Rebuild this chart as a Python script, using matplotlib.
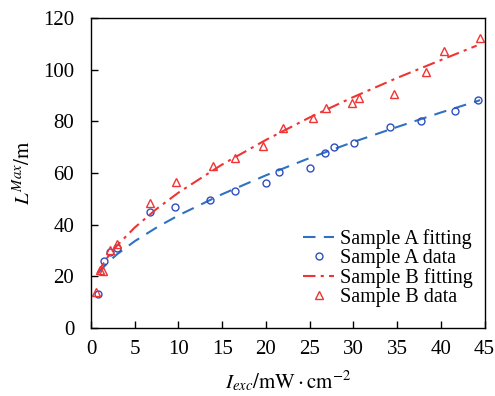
import matplotlib
matplotlib.use("Agg")
import matplotlib.pyplot as plt

# measured points
a_x = [0.8, 1.5, 2.2, 3.0, 6.8, 9.6, 13.6, 16.5, 20.0, 21.5, 25.0, 26.8, 27.8, 30.1, 34.2, 37.7, 41.6, 44.3]
a_y = [13.2, 25.8, 29.4, 31.1, 44.8, 46.7, 49.6, 52.9, 56.3, 60.5, 61.9, 67.9, 70.1, 71.7, 77.7, 80.3, 84.1, 88.3]

b_x = [0.6, 1.0, 1.4, 2.2, 3.0, 6.8, 9.7, 13.9, 16.5, 19.7, 21.9, 25.4, 26.9, 29.8, 30.6, 34.6, 38.3, 40.4, 44.5]
b_y = [14.0, 22.5, 22.0, 30.1, 32.5, 48.3, 56.5, 62.8, 65.9, 70.6, 77.5, 81.4, 85.3, 87.0, 88.9, 90.7, 99.2, 107.4, 112.2]

# fitted curves
fit_a_x = [0.8, 1.0, 2.0, 3.0, 5.0, 7.5, 10.0, 15.0, 20.0, 25.0, 30.0, 35.0, 40.0, 44.5]
fit_a_y = [21.2, 22.0, 25.6, 28.6, 33.6, 38.9, 43.6, 51.8, 59.1, 65.8, 72.0, 77.8, 83.4, 88.2]

fit_b_x = [0.75, 1.0, 2.0, 3.0, 5.0, 7.5, 10.0, 15.0, 20.0, 25.0, 30.0, 35.0, 40.0, 44.1]
fit_b_y = [21.2, 22.8, 27.9, 32.0, 38.9, 46.1, 52.4, 63.3, 72.8, 81.5, 89.4, 96.8, 103.7, 109.3]

plt.rcParams['font.family'] = 'Liberation Serif'
plt.rcParams['mathtext.fontset'] = 'stix'

fig = plt.figure(figsize=(4.95, 3.96), dpi=100)
ax = fig.add_axes([91 / 495, 1 - 328 / 396, (484.5 - 91) / 495, (328 - 18) / 396])

ax.plot(fit_a_x, fit_a_y, color='#2F72C0', lw=1.5, dashes=(6, 4), label='Sample A fitting')
ax.plot(a_x, a_y, 'o', ms=5, mfc='none', mec='#2F4FC0', mew=1.0, label='Sample A data')
ax.plot(fit_b_x, fit_b_y, color='#F03434', lw=1.5, dashes=(6, 2.5, 1.5, 2.5), label='Sample B fitting')
ax.plot(b_x, b_y, '^', ms=6, mfc='none', mec='#F03434', mew=1.0, label='Sample B data')

ax.set_xlim(0, 45)
ax.set_ylim(0, 120)
ax.set_xticks(range(0, 46, 5))
ax.set_yticks(range(0, 121, 20))
ax.tick_params(direction='in', length=5, width=1, labelsize=15)
ax.tick_params(axis='x', pad=9)
ax.tick_params(axis='y', pad=12)
for s in ax.spines.values():
    s.set_linewidth(1.0)

ax.set_xlabel(r'$I_{exc}/\mathrm{mW\cdot cm^{-2}}$', fontsize=15, labelpad=6)
ax.set_ylabel(r'$L^{Max}/\mathrm{m}$', fontsize=15, labelpad=6)

ax.legend(loc='center right', bbox_to_anchor=(1.0, 0.194), frameon=False, fontsize=14.5,
          handlelength=1.5, handletextpad=0.3, labelspacing=0.0, borderaxespad=0.2)

fig.savefig('out.png', dpi=100)
